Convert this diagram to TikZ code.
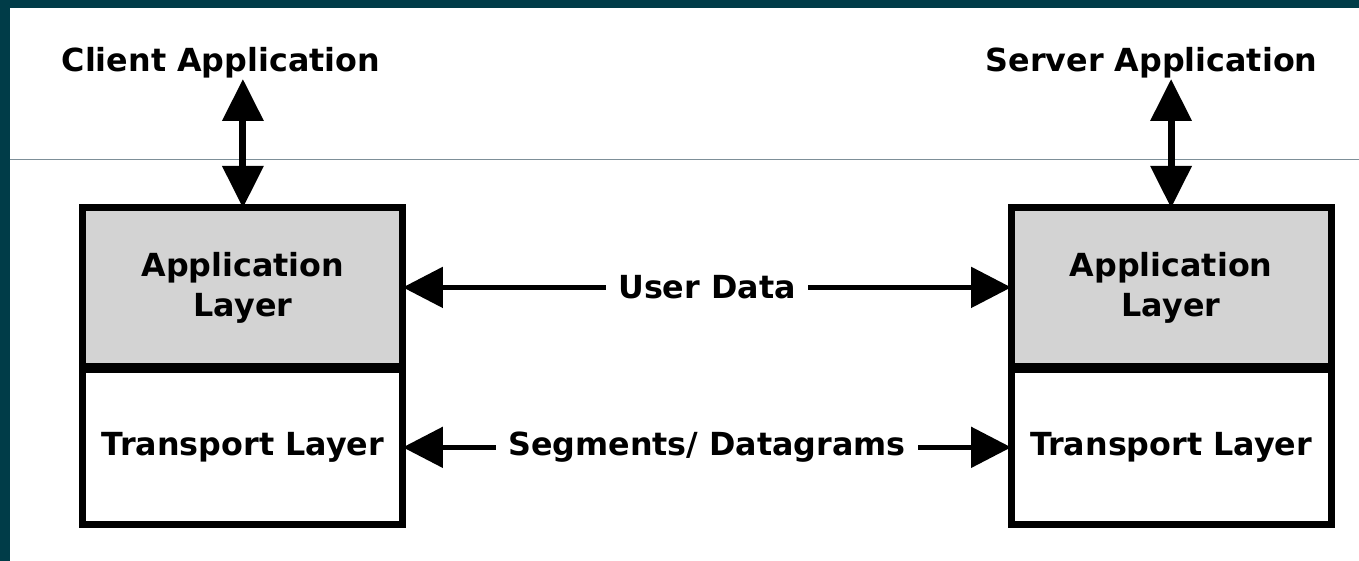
\documentclass[tikz,border=0pt]{standalone}
\usepackage{fontspec}
\setmainfont{DejaVu Sans}
\usepackage{xcolor}
\usepackage{tikz}
\usetikzlibrary{arrows.meta,positioning}
\definecolor{frameteal}{RGB}{0,60,72}
\definecolor{layergray}{RGB}{211,211,211}
\definecolor{ruleline}{RGB}{125,143,152}
\tikzset{
  layerbox/.style={
    rectangle, draw=black, line width=3.5pt, outer sep=0pt,
    minimum width=160pt, minimum height=79.5pt,
    align=center, font=\bfseries\fontsize{15.9}{20}\selectfont, inner sep=2pt
  },
  appbox/.style={layerbox, fill=layergray},
  transbox/.style={layerbox, minimum height=77.5pt},
  endlabel/.style={font=\bfseries\fontsize{15.9}{20}\selectfont, inner sep=0pt, anchor=base},
  msglabel/.style={font=\bfseries\fontsize{15.9}{20}\selectfont, fill=white, inner xsep=6pt, inner ysep=2pt},
  apparrow/.style={{Triangle[length=21pt,width=20pt]}-{Triangle[length=21pt,width=20pt]}, line width=3.5pt},
  peerarrow/.style={{Triangle[length=20pt,width=20pt]}-{Triangle[length=20pt,width=20pt]}, line width=2.5pt},
}

\begin{document}
\begin{tikzpicture}[x=0.5pt, y=-0.5pt]
  % frame and rule
  \fill[frameteal] (0,0) rectangle (1359,561);
  \fill[white] (10,8) rectangle (1359,561);
  \draw[ruleline, line width=0.5pt] (10,159.5) -- (1359,159.5);

  % client stack
  \node (capp) [appbox] at (243,287.5) {Application\\Layer};
  \node (ctrans) [transbox, below=1.5pt of capp] {Transport Layer};
  \node (client) [endlabel] at (221,72) {Client Application};

  % server stack
  \node (sapp) [appbox] at (1171.5,287.5) {Application\\Layer};
  \node (strans) [transbox, below=1.5pt of sapp] {Transport Layer};
  \node (server) [endlabel] at (1152,72) {Server Application};

  \draw[apparrow] (capp.north |- client.south) -- (capp.north);
  \draw[apparrow] (sapp.north |- server.south) -- (sapp.north);
  \draw[peerarrow] (capp.east) -- node[msglabel] {User Data} (sapp.west);
  \draw[peerarrow] (ctrans.east) -- node[msglabel] {Segments/ Datagrams} (strans.west);
\end{tikzpicture}
\end{document}
